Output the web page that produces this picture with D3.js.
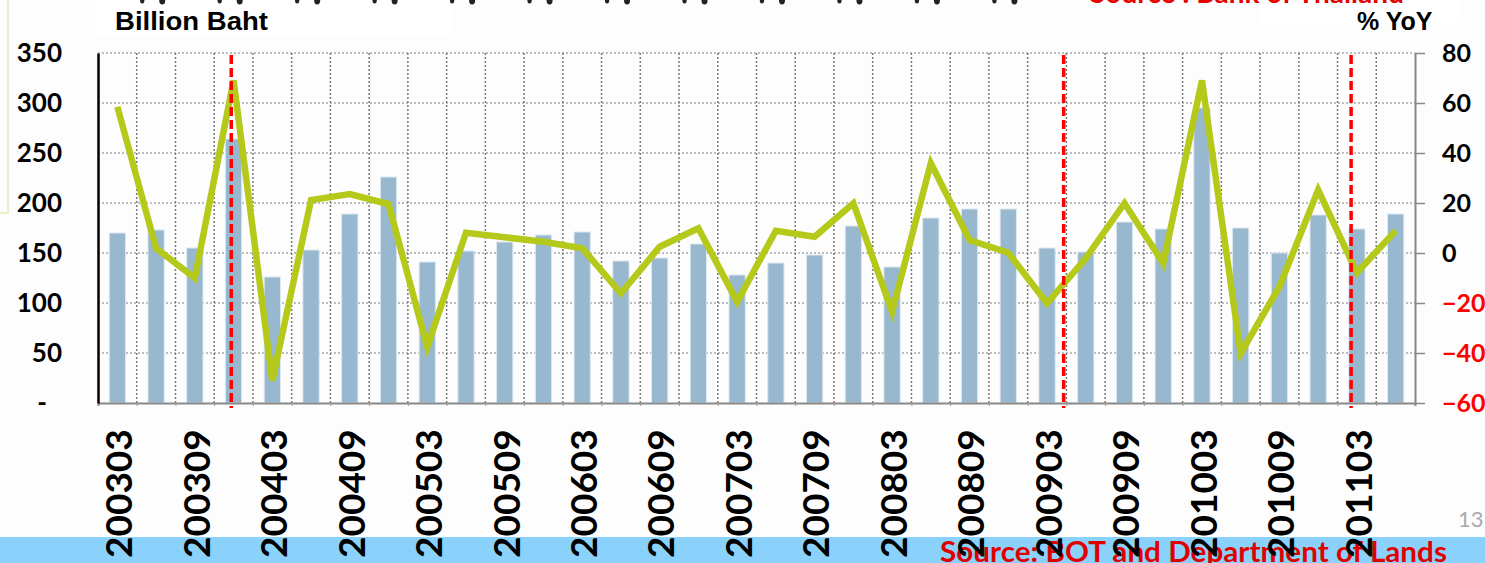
<!DOCTYPE html>
<html>
<head>
<meta charset="utf-8">
<script src="https://cdn.jsdelivr.net/npm/d3@7"></script>
<style>
    body { margin: 0; background: #fdfdfd; }
    svg { display: block; }
</style>
</head>
<body>
<svg id="chart" width="1485" height="563"></svg>
<script>
// quarterly categories (yyyymm)
const categories = [
    '200303', '200306', '200309', '200312',
    '200403', '200406', '200409', '200412',
    '200503', '200506', '200509', '200512',
    '200603', '200606', '200609', '200612',
    '200703', '200706', '200709', '200712',
    '200803', '200806', '200809', '200812',
    '200903', '200906', '200909', '200912',
    '201003', '201006', '201009', '201012',
    '201103', '201106'
];
// Billion Baht (bars, left axis)
const valueBaht = [
    170, 173, 155, 264,
    126, 153, 189, 226,
    141, 152, 161, 168,
    171, 142, 145, 159,
    128, 140, 148, 177,
    136, 185, 194, 194,
    155, 151, 181, 174,
    295, 175, 150, 188,
    174, 189
];
// % YoY (line, right axis)
const growthYoY = [
    58.5, 1.9, -10, 69,
    -51, 21.2, 23.6, 19.6,
    -37.5, 8.1, 6.3, 4.5,
    1.9, -16.1, 2.5, 9.9,
    -19.5, 8.9, 6.5, 19.9,
    -23.5, 35.9, 5.2, 0.1,
    -20.1, -2.1, 19.9, -4.1,
    69, -40.1, -13.5, 25.2,
    -7.9, 8.9
];
const leftTicks = [0, 50, 100, 150, 200, 250, 300, 350];
const rightTicks = [-60, -40, -20, 0, 20, 40, 60, 80];
// red dashed markers, in category units from the left edge
const markerPositions = [3.44, 24.93, 32.35];

const svg = d3.select('#chart');
const plotLeft = 98, plotRight = 1415, plotTop = 53, plotBottom = 403;

const xi = d3.scaleLinear().domain([0, categories.length]).range([plotLeft, plotRight]);
const yL = d3.scaleLinear().domain([0, 350]).range([plotBottom, plotTop]);
const yR = d3.scaleLinear().domain([-60, 80]).range([plotBottom, plotTop]);
const bandW = xi(1) - xi(0);
const barW = bandW * 0.42;
const cx = (i) => xi(i + 0.5);

// leftover frame of another slide element on the far left
svg.append('rect')
    .attr('x', -200).attr('y', -10).attr('width', 208).attr('height', 223)
    .attr('fill', 'none').attr('stroke', '#e9efc8').attr('stroke-width', 2);

// white header boxes
svg.append('rect').attr('x', 95).attr('y', 0).attr('width', 355).attr('height', 37).attr('fill', '#ffffff');
svg.append('rect').attr('x', 1260).attr('y', 0).attr('width', 202).attr('height', 23).attr('fill', '#ffffff');

// bits of glyphs cut off at the top edge (from the slide above)
const topPairs = d3.range(1, 24, 2);
const topMarks = svg.append('g').selectAll('g').data(topPairs).enter().append('g')
    .attr('transform', (d) => 'translate(' + xi(d + 0.4) + ',0)');
topMarks.append('ellipse').attr('cx', -10).attr('cy', 0).attr('rx', 2.2).attr('ry', 3.5).attr('fill', '#222');
topMarks.append('ellipse').attr('cx', 10).attr('cy', 0.5).attr('rx', 3).attr('ry', 4).attr('fill', '#222');

svg.append('text')
    .attr('x', 1090).attr('y', 3)
    .attr('font-family', 'Lato').attr('font-weight', 'bold').attr('font-size', 28)
    .attr('fill', '#e60000')
    .text('Source : Bank of Thailand');

// axis titles
svg.append('text')
    .attr('x', 115).attr('y', 29.5)
    .attr('font-family', 'Liberation Sans').attr('font-weight', 'bold').attr('font-size', 25)
    .attr('textLength', 153).attr('lengthAdjust', 'spacingAndGlyphs')
    .text('Billion Baht');
svg.append('text')
    .attr('x', 1357).attr('y', 29.5)
    .attr('font-family', 'Liberation Sans').attr('font-weight', 'bold').attr('font-size', 25)
    .text('% YoY');

// horizontal grid
svg.append('g').selectAll('line').data(leftTicks.filter((d) => d > 0)).enter().append('line')
    .attr('x1', plotLeft).attr('x2', plotRight)
    .attr('y1', (d) => yL(d)).attr('y2', (d) => yL(d))
    .attr('stroke', '#a8a8a8').attr('stroke-width', 1.5).attr('stroke-dasharray', '2,2');

// vertical grid at band boundaries
svg.append('g').selectAll('line').data(d3.range(1, categories.length)).enter().append('line')
    .attr('x1', (d) => xi(d)).attr('x2', (d) => xi(d))
    .attr('y1', plotTop).attr('y2', plotBottom)
    .attr('stroke', '#7a7a7a').attr('stroke-width', 1.5).attr('stroke-dasharray', '2,2');

// bars
svg.append('g').selectAll('rect').data(valueBaht).enter().append('rect')
    .attr('x', (d, i) => cx(i) - barW / 2)
    .attr('y', (d) => yL(d))
    .attr('width', barW)
    .attr('height', (d) => yL(0) - yL(d))
    .attr('fill', '#97b8ce')
    .attr('stroke', '#dde8f0')
    .attr('stroke-width', 1);

// yoy line
const line = d3.line().x((d, i) => cx(i)).y((d) => yR(d));
svg.append('path')
    .datum(growthYoY)
    .attr('d', line)
    .attr('fill', 'none')
    .attr('stroke', '#b5c91b')
    .attr('stroke-width', 6.5)
    .attr('stroke-linejoin', 'miter');

// red dashed markers
svg.append('g').selectAll('line').data(markerPositions).enter().append('line')
    .attr('x1', (d) => xi(d)).attr('x2', (d) => xi(d))
    .attr('y1', 55).attr('y2', 408)
    .attr('stroke', '#ff0000').attr('stroke-width', 3.5).attr('stroke-dasharray', '9,4');

// bottom axis
svg.append('g')
    .attr('transform', 'translate(0,' + plotBottom + ')')
    .call(d3.axisBottom(xi).tickValues(d3.range(1, categories.length)).tickSize(3).tickFormat(''))
    .call((g) => g.select('.domain').attr('stroke', '#888').attr('stroke-width', 2))
    .call((g) => g.selectAll('.tick line').attr('stroke', '#999'));

// left axis
svg.append('g')
    .attr('transform', 'translate(' + plotLeft + ',0)')
    .call(d3.axisLeft(yL).tickValues(leftTicks).tickSize(0).tickSizeOuter(0).tickPadding(36)
        .tickFormat((d) => d === 0 ? '-\u2007' : d))
    .call((g) => g.select('.domain').attr('stroke', '#000').attr('stroke-width', 2.5))
    .call((g) => g.selectAll('text')
        .attr('font-family', 'Lato').attr('font-weight', 'bold').attr('font-size', 26).attr('fill', '#000'));

// right axis
svg.append('g')
    .attr('transform', 'translate(' + plotRight + ',0)')
    .call(d3.axisRight(yR).tickValues(rightTicks).tickSize(10).tickSizeOuter(0).tickPadding(17))
    .call((g) => g.select('.domain').attr('stroke', '#888').attr('stroke-width', 2))
    .call((g) => g.selectAll('.tick line').attr('stroke', '#888').attr('stroke-width', 1.5))
    .call((g) => g.selectAll('text')
        .attr('font-family', 'Lato').attr('font-weight', 'bold').attr('font-size', 25)
        .attr('fill', (d) => d < 0 ? '#ff0000' : '#000'));

// bottom band and source
svg.append('rect').attr('x', 0).attr('y', 537).attr('width', 1485).attr('height', 26).attr('fill', '#8ad2fb');
svg.append('text')
    .attr('x', 940).attr('y', 562)
    .attr('font-family', 'Lato').attr('font-weight', 'bold').attr('font-size', 28)
    .attr('textLength', 507).attr('lengthAdjust', 'spacingAndGlyphs')
    .attr('fill', '#e00000')
    .text('Source: BOT and Department of Lands');

// page number
svg.append('text')
    .attr('x', 1458).attr('y', 527)
    .attr('font-family', 'Lato').attr('font-size', 22).attr('fill', '#aaaaaa')
    .text('13');

// rotated category labels, every second quarter
svg.append('g').selectAll('text')
    .data(categories.map((c, i) => ({c, i})).filter((d) => d.i % 2 === 0))
    .enter().append('text')
    .attr('transform', (d) => 'translate(' + (cx(d.i) + 1.5) + ',558) rotate(-90)')
    .attr('dy', '0.36em')
    .attr('font-family', 'Lato').attr('font-weight', 'bold').attr('font-size', 37)
    .attr('fill', '#000')
    .text((d) => d.c);
</script>
</body>
</html>
